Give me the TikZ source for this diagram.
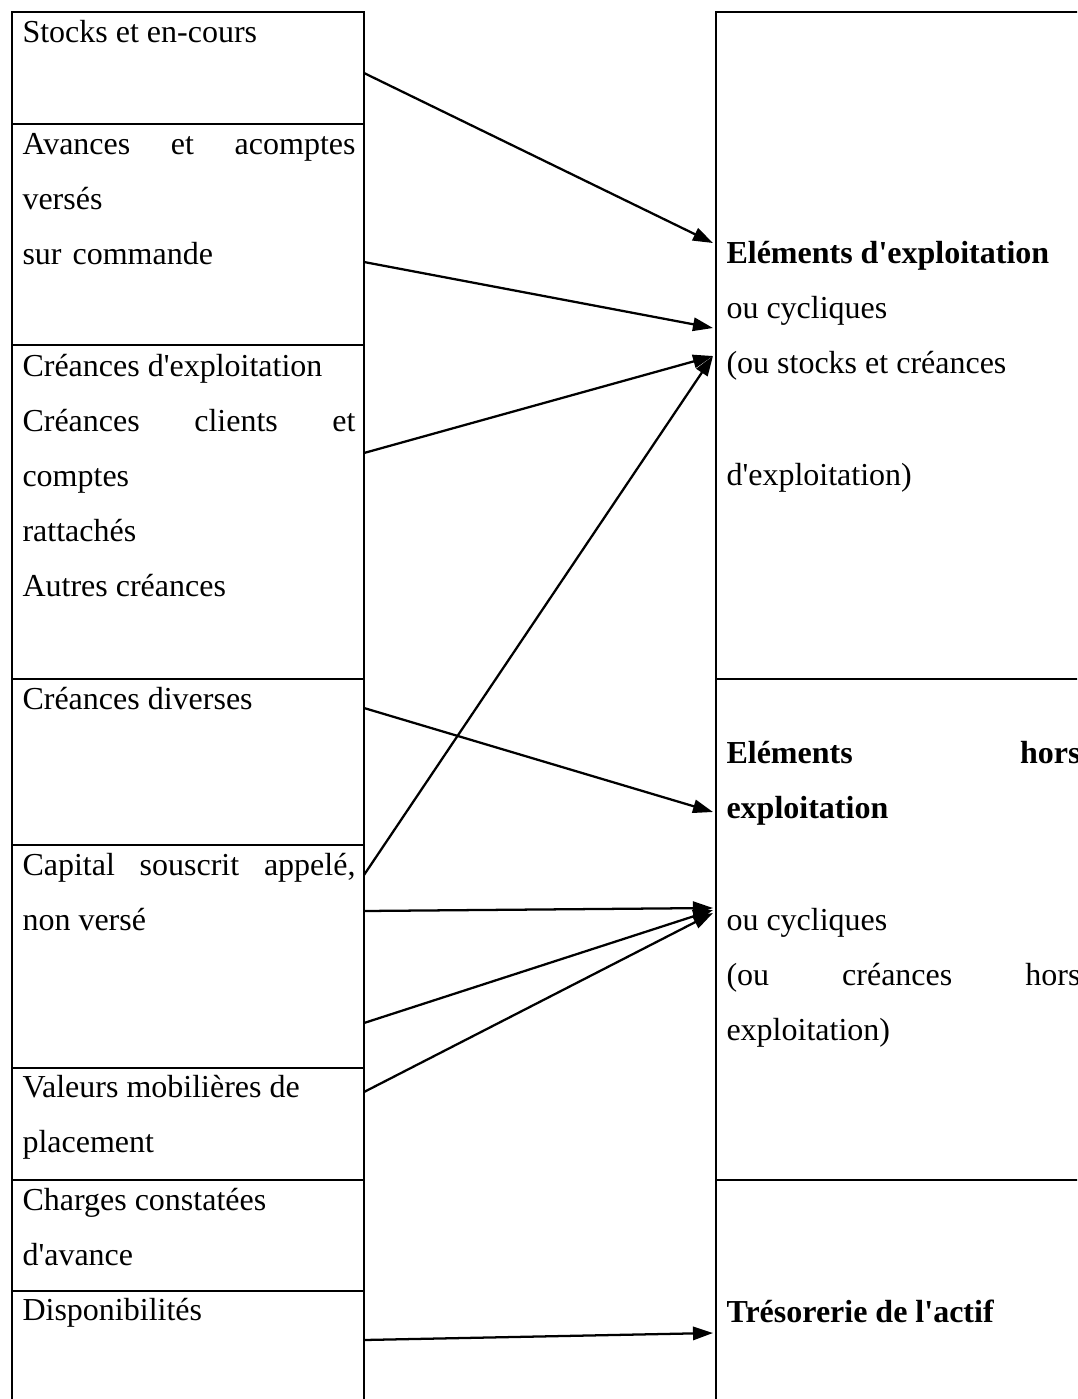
\documentclass[tikz,border=0pt]{standalone}
\usepackage{fontspec}
\setmainfont{Liberation Serif}[Ligatures=TeXOff]
\usetikzlibrary{arrows.meta}
% justified lines for the two columns
\newcommand\justL[1]{\hbox to 124.875pt{#1}}
\newcommand\justR[1]{\hbox to 132.75pt{#1}}
\begin{document}
\begin{tikzpicture}[x=0.375pt,y=-0.375pt,
  grid/.style={line width=1pt},
  txt/.style={anchor=base west,inner sep=0pt,font=\fontsize{12pt}{14pt}\selectfont},
  link/.style={line width=0.85pt,-{Triangle[length=7.5pt,width=5pt]}}]
\useasboundingbox (0,0) rectangle (1077,1399);
\clip (0,0) rectangle (1077,1399);

% ---- left column: asset items
\draw[grid] (12,1410) -- (12,12) -- (364,12) -- (364,1410);
\foreach \y in {124,345,679,845,1068,1180,1291}
  \draw[grid] (12,\y) -- (364,\y);

% ---- right column: groupings
\draw[grid] (716,1410) -- (716,12) -- (1090,12);
\draw[grid] (716,679) -- (1090,679);
\draw[grid] (716,1180) -- (1090,1180);

% ---- left texts
\node[txt] (stocks) at (22,42) {Stocks et en-cours};
\node[txt] (avA) at (22,154) {\justL{Avances\hfill et\hfill acomptes}};
\node[txt] (avB) at (22,209) {versés};
\node[txt] (avC) at (22,264) {sur\hspace{4.1pt}commande};
\node[txt] (crA) at (22,376) {Créances d'exploitation};
\node[txt] (crB) at (22,431) {\justL{Créances\hfill clients\hfill et}};
\node[txt] (crC) at (22,486) {comptes};
\node[txt] (crD) at (22,541) {rattachés};
\node[txt] (crE) at (22,596) {Autres créances};
\node[txt] (div) at (22,709) {Créances diverses};
\node[txt] (capA) at (22,875) {\justL{Capital\hfill souscrit\hfill appelé,}};
\node[txt] (capB) at (22,930) {non versé};
\node[txt] (vmA) at (22,1097) {Valeurs mobilières de};
\node[txt] (vmB) at (22,1152) {placement};
\node[txt] (chA) at (22,1210) {Charges constatées};
\node[txt] (chB) at (22,1265) {d'avance};
\node[txt] (dispo) at (22,1320) {Disponibilités};

% ---- right texts
\node[txt] (exA) at (726,263) {\textbf{Eléments d'exploitation}};
\node[txt] (exB) at (726,318) {ou cycliques};
\node[txt] (exC) at (726,373) {(ou stocks et créances};
\node[txt] (exD) at (726,485) {d'exploitation)};
\node[txt] (hoA) at (726,763) {\justR{\textbf{Eléments}\hfill\textbf{hors}}};
\node[txt] (hoB) at (726,818) {\textbf{exploitation}};
\node[txt] (hoC) at (726,930) {ou cycliques};
\node[txt] (hoD) at (726,985) {\justR{(ou\hfill créances\hfill hors}};
\node[txt] (hoE) at (726,1040) {exploitation)};
\node[txt] (treso) at (726,1322) {\textbf{Trésorerie de l'actif}};

% ---- connector end points on the column edges
\coordinate (s1) at (364,73);
\coordinate (s2) at (364,262);
\coordinate (s3) at (364,453);
\coordinate (s4) at (364,708);
\coordinate (s5) at (364,875);
\coordinate (s6) at (364,911);
\coordinate (s7) at (364,1023);
\coordinate (s8) at (364,1092);
\coordinate (s9) at (364,1340);
\coordinate (e1) at (713,243);
\coordinate (e2) at (713,328);
\coordinate (e3) at (713,356);
\coordinate (e4) at (713,812);
\coordinate (e6) at (713,908);
\coordinate (e7) at (713,910);
\coordinate (e8) at (713,913);
\coordinate (e9) at (713,1333);

\draw[link] (s1) -- (e1);
\draw[link] (s2) -- (e2);
\draw[link] (s3) -- (e3);
\draw[link] (s4) -- (e4);
\draw[link] (s5) -- (e3);
\draw[link] (s6) -- (e6);
\draw[link] (s7) -- (e7);
\draw[link] (s8) -- (e8);
\draw[link] (s9) -- (e9);
\end{tikzpicture}
\end{document}
